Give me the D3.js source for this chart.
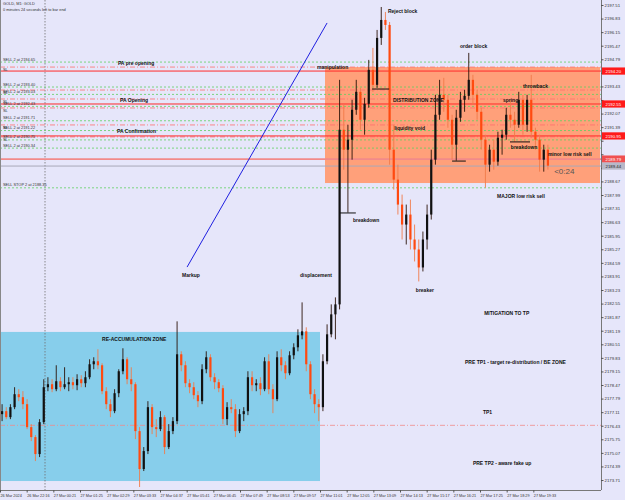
<!DOCTYPE html>
<html>
<head>
<meta charset="utf-8">
<script src="https://cdn.jsdelivr.net/npm/d3@7"></script>
<style>
  body { margin: 0; background: #e6e6fa; }
  svg { display: block; font-family: "Liberation Sans", Arial, sans-serif; }
</style>
</head>
<body>
<div id="chart"></div>
<script>
// OHLC per 10-minute block (open, high, low, close)
const candles = [
  [2177.01,2177.51,2176.66,2177.16],[2177.16,2177.36,2176.76,2176.86],[2176.86,2177.51,2176.76,2177.36],
  [2177.36,2178.36,2177.26,2178.01],[2178.01,2178.26,2177.66,2177.86],[2177.86,2178.16,2177.26,2177.51],
  [2177.51,2177.76,2176.26,2176.36],[2176.36,2176.51,2175.66,2175.86],[2175.86,2175.96,2174.66,2175.01],
  [2175.01,2176.76,2174.86,2176.61],[2176.61,2178.76,2176.51,2178.36],[2178.36,2178.86,2178.16,2178.51],
  [2178.51,2178.76,2178.11,2178.26],[2178.26,2179.46,2178.16,2178.66],[2178.66,2178.86,2178.16,2178.36],
  [2178.36,2179.36,2178.26,2178.51],[2178.51,2178.86,2178.16,2178.61],[2178.61,2178.86,2178.26,2178.46],
  [2178.46,2179.01,2178.21,2178.76],[2178.76,2178.96,2178.36,2178.56],[2178.56,2179.16,2178.36,2178.86],
  [2178.86,2179.76,2178.76,2179.51],[2179.51,2179.86,2179.26,2179.66],[2179.66,2180.26,2179.26,2179.46],
  [2179.46,2179.56,2178.01,2178.16],[2178.16,2178.36,2177.26,2177.51],[2177.51,2177.76,2176.86,2177.16],
  [2177.16,2178.26,2177.06,2178.06],[2178.06,2179.26,2177.86,2179.16],[2179.16,2180.31,2179.01,2179.76],
  [2179.76,2179.86,2178.51,2178.76],[2178.76,2179.36,2178.16,2178.51],[2178.51,2178.61,2175.76,2176.16],
  [2176.16,2176.36,2173.36,2174.26],[2174.26,2175.36,2174.16,2175.16],[2175.16,2177.66,2175.01,2177.36],
  [2177.36,2177.51,2176.01,2176.36],[2176.36,2176.76,2175.86,2176.26],[2176.26,2177.16,2176.16,2176.86],
  [2176.86,2176.96,2175.01,2175.36],[2175.36,2176.51,2175.26,2176.16],[2176.16,2176.86,2176.01,2176.66],
  [2176.66,2181.66,2176.51,2180.01],[2180.01,2180.16,2179.16,2179.46],[2179.46,2179.66,2178.36,2178.56],
  [2178.56,2178.76,2178.06,2178.36],[2178.36,2178.61,2177.76,2177.96],[2177.96,2178.16,2177.36,2177.66],
  [2177.66,2179.51,2177.51,2179.26],[2179.26,2180.16,2179.06,2179.86],[2179.86,2180.01,2178.66,2178.86],
  [2178.86,2179.06,2178.26,2178.61],[2178.61,2178.76,2178.11,2178.31],[2178.31,2178.46,2176.51,2176.76],
  [2176.76,2177.61,2176.46,2177.36],[2177.36,2177.76,2177.06,2177.26],[2177.26,2177.51,2175.86,2176.16],
  [2176.16,2177.26,2176.06,2177.01],[2177.01,2177.36,2176.66,2177.16],[2177.16,2179.16,2176.96,2178.86],
  [2178.86,2179.16,2178.16,2178.46],[2178.46,2178.76,2178.16,2178.56],[2178.56,2178.86,2177.96,2178.26],
  [2178.26,2179.86,2178.16,2179.66],[2179.66,2180.01,2178.01,2178.26],[2178.26,2178.51,2177.06,2177.76],
  [2177.76,2180.16,2177.66,2179.86],[2179.86,2180.26,2179.16,2179.46],[2179.46,2179.66,2178.76,2179.06],
  [2179.06,2180.16,2178.96,2179.96],[2179.96,2180.56,2179.76,2180.36],[2180.36,2181.26,2180.16,2180.96],
  [2180.96,2182.61,2180.76,2181.16],[2181.16,2181.36,2179.16,2179.51],[2179.51,2179.66,2177.76,2178.01],
  [2178.01,2178.26,2177.06,2177.51],[2177.51,2177.76,2176.66,2177.36],[2177.36,2180.01,2177.16,2179.66],
  [2179.66,2181.51,2179.51,2181.01],[2181.01,2182.51,2180.86,2182.01],[2182.01,2182.86,2180.76,2182.51],
  [2182.51,2193.76,2182.26,2191.26],[2191.26,2192.51,2189.26,2190.26],[2190.26,2191.51,2187.11,2190.76],
  [2190.76,2192.76,2189.76,2192.26],[2192.26,2193.76,2192.01,2193.16],[2193.16,2193.36,2191.26,2191.76],
  [2191.76,2192.86,2191.01,2192.56],[2192.56,2194.76,2192.36,2194.26],[2194.26,2195.36,2193.16,2193.51],
  [2193.51,2196.26,2193.36,2195.86],[2195.86,2197.41,2195.51,2196.76],[2196.76,2197.16,2196.26,2196.51],
  [2196.51,2196.66,2189.51,2190.26],[2190.26,2191.51,2188.26,2188.76],[2188.76,2189.51,2187.01,2187.51],
  [2187.51,2188.01,2185.76,2186.51],[2186.51,2187.51,2185.51,2187.01],[2187.01,2187.76,2185.26,2185.76],
  [2185.76,2186.51,2184.66,2185.26],[2185.26,2185.76,2183.66,2184.36],[2184.36,2186.16,2184.16,2185.76],
  [2185.76,2187.51,2185.26,2187.01],[2187.01,2190.26,2186.76,2189.76],[2189.76,2193.01,2189.51,2192.01],
  [2192.01,2193.76,2191.76,2193.01],[2193.01,2193.86,2192.16,2192.76],[2192.76,2193.01,2191.36,2191.76],
  [2191.76,2192.01,2189.76,2190.51],[2190.51,2192.26,2189.71,2191.86],[2191.86,2193.16,2191.66,2192.76],
  [2192.76,2193.26,2192.16,2192.96],[2192.96,2195.11,2192.76,2193.76],[2193.76,2194.01,2192.51,2193.01],
  [2193.01,2193.26,2191.76,2192.16],[2192.16,2192.36,2190.26,2190.76],[2190.76,2191.01,2188.36,2189.51],
  [2189.51,2190.51,2189.16,2190.26],[2190.26,2190.76,2189.26,2189.66],[2189.66,2191.16,2189.46,2190.86],
  [2190.86,2191.26,2190.01,2191.01],[2191.01,2192.36,2190.76,2192.01],[2192.01,2192.76,2191.36,2191.76],
  [2191.76,2192.16,2190.66,2191.51],[2191.51,2193.16,2191.36,2192.76],[2192.76,2193.01,2191.01,2191.51],
  [2191.51,2193.01,2191.16,2192.76],[2192.76,2194.01,2190.86,2191.16],[2191.16,2191.36,2190.26,2190.76],
  [2190.76,2191.01,2189.16,2189.76],[2189.76,2190.51,2189.16,2190.26],[2190.26,2190.51,2189.26,2189.46]
];
const barsPerCandle = 10;
const totalBars = 1440;

const priceTicks = [2173.71,2174.39,2175.07,2175.75,2176.43,2177.11,2177.79,2178.47,2179.15,2179.83,
  2180.51,2181.19,2181.87,2182.55,2183.23,2183.91,2184.59,2185.27,2185.95,2186.63,2187.31,2187.99,
  2188.67,2189.35,2190.03,2190.71,2191.39,2192.07,2192.75,2193.43,2194.11,2194.79,2195.47,2196.15,
  2196.83,2197.51];

const timeTickBars = [0,64,128,192,256,320,384,448,512,576,640,704,768,832,896,960,1024,1088,1152,1216,1280];
const timeLabels = ["26 Mar 2024","26 Mar 22:16","27 Mar 00:21","27 Mar 01:25","27 Mar 02:29","27 Mar 03:33",
  "27 Mar 04:37","27 Mar 05:41","27 Mar 06:45","27 Mar 07:49","27 Mar 08:53","27 Mar 09:57","27 Mar 11:01",
  "27 Mar 12:05","27 Mar 13:09","27 Mar 14:13","27 Mar 15:17","27 Mar 16:21","27 Mar 17:25","27 Mar 18:29",
  "27 Mar 19:33"];
const daySeparatorBar = 108;

// zones: [bar from, bar to], [price top, price bottom]
const zoneBars = [[0, 768], [780, 1440]];
const zonePrices = [[2181.13, 2173.66], [2194.40, 2188.59]];

// pending orders and their stop-losses
const orderPrices = [2194.65, 2193.40, 2193.03, 2192.43, 2191.71, 2191.22, 2190.75, 2190.34];
const sellStopPrice = 2188.35;
const slPrices = [2194.40, 2193.25, 2192.80, 2192.35, 2191.50, 2190.90];
const levelPrices = [2194.20, 2192.55, 2190.95];
const alertPrice = 2189.79;
const bidPrice = 2189.44;
const tp1Price = 2176.45;

// short horizontal marks: [bar from, bar to, price]
const segments = [[816, 854, 2187.09], [893, 934, 2193.30], [1085, 1118, 2189.69], [1224, 1272, 2190.65]];
const markupLine = [[449, 2184.38], [785, 2196.61]];

// annotations: [text, bar, price]
const notes = [
  ["Reject block", 931, 2197.21],
  ["order block", 1104, 2195.46],
  ["manipulation", 761, 2194.40],
  ["DISTRIBUTION ZONE", 943, 2192.75],
  ["throwback", 1255, 2193.45],
  ["spring", 1207, 2192.75],
  ["liquidity void", 946, 2191.35],
  ["breakdown", 1226, 2190.40],
  ["minor low risk sell", 1315, 2190.04],
  ["MAJOR low risk sell", 1193, 2187.94],
  ["breakdown", 847, 2186.74],
  ["displacement", 720, 2183.98],
  ["Markup", 437, 2183.98],
  ["breaker", 998, 2183.23],
  ["MITIGATION TO TP", 1162, 2182.08],
  ["RE-ACCUMULATION ZONE", 245, 2180.78],
  ["PRE TP1 - target re-distribution / BE ZONE", 1116, 2179.62],
  ["TP1", 1159, 2177.12],
  ["PRE TP2 - aware fake up", 1135, 2174.56],
  ["PA pre opening", 283, 2194.60],
  ["PA Opening", 288, 2192.75],
  ["PA Confirmation", 281, 2191.20]
];
const countdown = ["<0:24", 1330, 2189.19];

const W = 625, H = 500;
const plotW = 601, plotH = 490;

const svg = d3.select("#chart").append("svg")
    .attr("width", W)
    .attr("height", H);

svg.append("rect").attr("width", W).attr("height", H).attr("fill", "#e6e6fa");

const x = d3.scaleLinear().domain([0, totalBars]).range([0, 600]);
const y = d3.scaleLinear().domain([2173.21, 2197.76]).range([plotH, 0]);

const zoneColors = ["#87ceeb", "#ffa07a"];
svg.append("g").selectAll("rect")
    .data(zoneBars)
    .join("rect")
    .attr("x", d => x(d[0]))
    .attr("width", d => x(d[1]) - x(d[0]))
    .attr("y", (d, i) => y(zonePrices[i][0]))
    .attr("height", (d, i) => y(zonePrices[i][1]) - y(zonePrices[i][0]))
    .attr("fill", (d, i) => zoneColors[i]);

// day separator
svg.append("line")
    .attr("x1", x(daySeparatorBar)).attr("x2", x(daySeparatorBar))
    .attr("y1", 0).attr("y2", plotH)
    .attr("stroke", "#707070").attr("stroke-width", 0.8)
    .attr("stroke-dasharray", "1.5,1.5");

const hline = (price, color, width, dash) => svg.append("line")
    .attr("x1", 0).attr("x2", plotW)
    .attr("y1", y(price)).attr("y2", y(price))
    .attr("stroke", color).attr("stroke-width", width)
    .attr("stroke-dasharray", dash);

orderPrices.forEach(p => hline(p, "#5fcf5f", 0.8, "2,2"));
hline(sellStopPrice, "#5fcf5f", 0.8, "2,2");
slPrices.forEach(p => hline(p, "#ff6f6f", 0.8, "5,2,1,2"));
levelPrices.forEach(p => hline(p, "#ff2a2a", 1, null));
hline(alertPrice, "#f28a8a", 1.6, null);
hline(bidPrice, "#a8a8b8", 1, null);
hline(tp1Price, "#f08a8a", 0.8, "5,2,1,2");

// candles
const cx = i => x(i * barsPerCandle + barsPerCandle / 2);
const cg = svg.append("g");
cg.selectAll("line")
    .data(candles)
    .join("line")
    .attr("x1", (d, i) => cx(i)).attr("x2", (d, i) => cx(i))
    .attr("y1", d => y(d[1])).attr("y2", d => y(d[2]))
    .attr("stroke", d => d[3] >= d[0] ? "#2a1208" : "#f07a4a")
    .attr("stroke-width", 0.9);
cg.selectAll("rect")
    .data(candles)
    .join("rect")
    .attr("x", (d, i) => cx(i) - 1.1)
    .attr("width", 2.2)
    .attr("y", d => y(Math.max(d[0], d[3])))
    .attr("height", d => Math.max(0.8, Math.abs(y(d[0]) - y(d[3]))))
    .attr("fill", d => d[3] >= d[0] ? "#111" : "#ff4a10");

// short black marks
svg.append("g").selectAll("line")
    .data(segments)
    .join("line")
    .attr("x1", d => x(d[0])).attr("x2", d => x(d[1]))
    .attr("y1", d => y(d[2])).attr("y2", d => y(d[2]))
    .attr("stroke", "#111").attr("stroke-width", 1);

svg.append("line")
    .attr("x1", x(markupLine[0][0])).attr("y1", y(markupLine[0][1]))
    .attr("x2", x(markupLine[1][0])).attr("y2", y(markupLine[1][1]))
    .attr("stroke", "#1f1fe0").attr("stroke-width", 1);

// order labels on the left
const small = svg.append("g").attr("font-size", 3.9).attr("fill", "#333");
orderPrices.forEach(p => small.append("text").attr("x", 3).attr("y", y(p) - 1.5).text(`SELL 2 at ${p.toFixed(2)}`));
small.append("text").attr("x", 3).attr("y", y(sellStopPrice) - 1.5).text(`SELL STOP 2 at ${sellStopPrice.toFixed(2)}`);
slPrices.forEach(p => small.append("text").attr("x", 3).attr("y", y(p) + 3.6).text("SL"));

small.append("text").attr("x", 3).attr("y", 5).text("GOLD, M1:  GOLD");
small.append("text").attr("x", 3).attr("y", 10.5).text("0 minutes 24 seconds left to bar end");

// annotations
svg.append("g").selectAll("text")
    .data(notes)
    .join("text")
    .attr("x", d => x(d[1]))
    .attr("y", d => y(d[2]) + 1.8)
    .attr("font-size", 5)
    .attr("font-weight", "bold")
    .attr("fill", "#111")
    .text(d => d[0]);

svg.append("text")
    .attr("x", x(countdown[1])).attr("y", y(countdown[2]) + 3)
    .attr("font-size", 8).attr("fill", "#555")
    .text(countdown[0]);

// frame
svg.append("line").attr("x1", 0.5).attr("x2", 0.5).attr("y1", 0).attr("y2", plotH).attr("stroke", "#888");

// price tags on the axis
const tags = [
  ...levelPrices.map(p => [p, "#ff1a1a", "#fff"]),
  [alertPrice, "#f05050", "#fff"],
  [bidPrice, "#b8b8c8", "#222"]
];

// right price axis; labels covered by a tag are not drawn
const yAxis = svg.append("g")
    .attr("transform", `translate(${plotW},0)`)
    .call(d3.axisRight(y).tickValues(priceTicks).tickSize(2.5).tickPadding(1).tickFormat(d3.format(".2f")));
yAxis.select(".domain").attr("stroke", "#777").attr("d", `M0.5,0V${plotH}`);
yAxis.selectAll(".tick line").attr("stroke", "#555");
yAxis.selectAll(".tick text").attr("font-size", 4.3).attr("fill", "#333").attr("font-family", "Liberation Sans, Arial")
    .attr("display", d => tags.some(t => Math.abs(y(t[0]) - y(d)) < 6.5) ? "none" : null);

// bottom time axis
const xAxis = svg.append("g")
    .attr("transform", `translate(0,${plotH})`)
    .call(d3.axisBottom(x).tickValues(timeTickBars).tickSize(2.5).tickPadding(2)
        .tickFormat((d, i) => timeLabels[i]));
xAxis.select(".domain").attr("stroke", "#777").attr("d", `M0,0.5H${plotW}`);
xAxis.selectAll(".tick line").attr("stroke", "#555");
xAxis.selectAll(".tick text").attr("font-size", 3.8).attr("fill", "#333")
    .attr("text-anchor", "start").attr("font-family", "Liberation Sans, Arial");

const tg = svg.append("g").selectAll("g").data(tags).join("g")
    .attr("transform", d => `translate(${plotW + 1},${y(d[0])})`);
tg.append("rect").attr("x", 0).attr("y", -3.6).attr("width", 23).attr("height", 7.2).attr("fill", d => d[1]);
tg.append("text").attr("x", 3.5).attr("y", 1.6).attr("font-size", 4.3).attr("fill", d => d[2]).text(d => d[0].toFixed(2));
</script>
</body>
</html>
